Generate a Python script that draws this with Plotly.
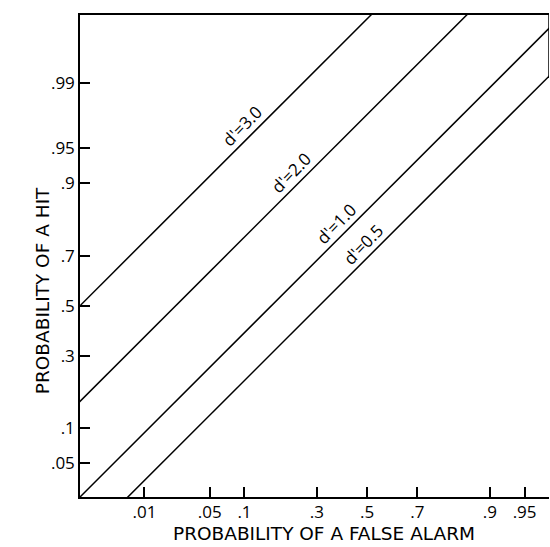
import plotly.graph_objects as go
from statistics import NormalDist

nd = NormalDist()
z = nd.inv_cdf

# ---- data ----
x_tick_probs = [0.01, 0.05, 0.1, 0.3, 0.5, 0.7, 0.9, 0.95]
x_tick_labels = [".01", ".05", ".1", ".3", ".5", ".7", ".9", ".95"]
y_tick_probs = [0.05, 0.1, 0.3, 0.5, 0.7, 0.9, 0.95, 0.99]
y_tick_labels = [".05", ".1", ".3", ".5", ".7", ".9", ".95", ".99"]
d_primes = [3.0, 2.0, 1.0, 0.5]
d_labels = ["d'=3.0", "d'=2.0", "d'=1.0", "d'=0.5"]
label_fa_z = [-1.21, -0.70, -0.23, 0.05]   # where each label sits along its line
fa_probs_line = [0.0005, 0.995]             # false-alarm extent of each ROC line

x_range = [-3.0, 1.9]
y_range = [-2.0, 3.04]

FONT = "Open Sans"
TITLE_FONT = "DejaVu Sans"

fig = go.Figure()
for d in d_primes:
    xs = [z(p) for p in fa_probs_line]
    ys = [x + d for x in xs]
    fig.add_trace(go.Scatter(x=xs, y=ys, mode="lines",
                             line=dict(color="black", width=1.5),
                             showlegend=False, hoverinfo="skip"))

for d, lab, xf in zip(d_primes, d_labels, label_fa_z):
    fig.add_annotation(x=xf, y=xf + d, text=lab, showarrow=False,
                       textangle=-46, xshift=-9, yshift=9,
                       font=dict(family=FONT, size=17, color="black"))

# partial right border (top-right corner down to where d'=0.5 meets it)
fig.add_shape(type="line", x0=x_range[1], x1=x_range[1],
              y0=x_range[1] + d_primes[-1], y1=y_range[1],
              line=dict(color="black", width=1.5))

fig.add_annotation(text="PROBABILITY OF A FALSE ALARM", xref="paper", yref="paper",
                   x=0.520, y=-0.0747, showarrow=False, xanchor="center", yanchor="middle",
                   font=dict(family=TITLE_FONT, size=18.5, color="black"))
fig.add_annotation(text="PROBABILITY OF A HIT", xref="paper", yref="paper",
                   x=-0.081, y=0.427, showarrow=False, textangle=-90,
                   xanchor="center", yanchor="middle",
                   font=dict(family=TITLE_FONT, size=18.5, color="black"))

fig.update_layout(
    width=550, height=547,
    margin=dict(l=80, r=1, t=15, b=50),
    paper_bgcolor="white", plot_bgcolor="white",
    xaxis=dict(range=x_range, tickvals=[z(p) for p in x_tick_probs],
               ticktext=x_tick_labels, ticks="inside", ticklen=10,
               tickcolor="black", tickwidth=1.5, ticklabelstandoff=-1,
               showgrid=False, zeroline=False, showline=True, linecolor="black",
               linewidth=1.5, mirror=True,
               tickfont=dict(family=FONT, size=17, color="black")),
    yaxis=dict(range=y_range, tickvals=[z(p) for p in y_tick_probs],
               ticktext=y_tick_labels, ticks="inside", ticklen=10,
               tickcolor="black", tickwidth=1.5,
               showgrid=False, zeroline=False, showline=True, linecolor="black",
               linewidth=1.5,
               tickfont=dict(family=FONT, size=17, color="black")),
)

fig.write_html("out.html", config={"displayModeBar": False},
               post_script="document.body.style.margin='0';document.body.style.overflow='hidden';")
